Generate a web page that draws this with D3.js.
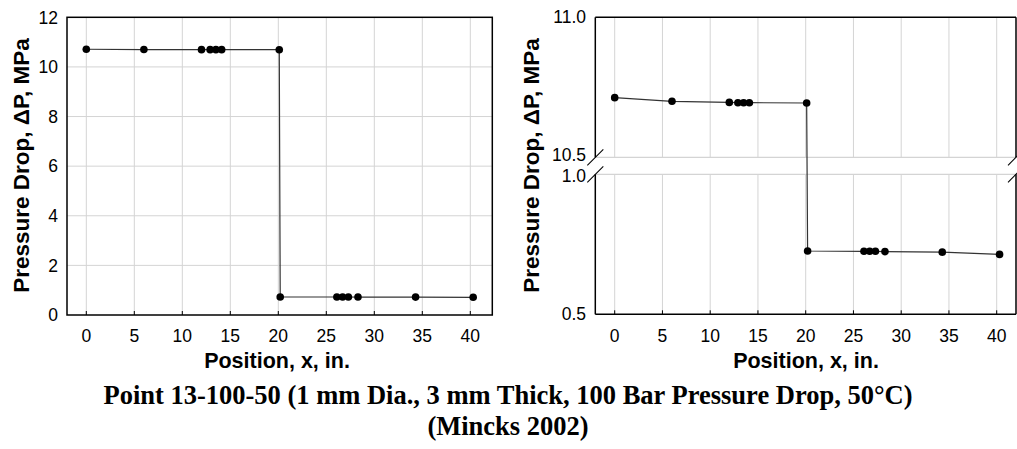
<!DOCTYPE html>
<html>
<head>
<meta charset="utf-8">
<script src="https://cdn.jsdelivr.net/npm/d3@7"></script>
<style>
  html, body { margin: 0; padding: 0; background: #fff; }
  svg { display: block; }
</style>
</head>
<body>
<svg id="chart" width="1017" height="449"></svg>
<script>
// Measured pressure drop along the specimen
const position = [0, 6, 12, 12.9, 13.5, 14.1, 20.1, 20.2, 26.1, 26.7, 27.3, 28.3, 34.3, 40.3];
const pressureDrop = [10.713, 10.70, 10.696, 10.695, 10.695, 10.695, 10.694,
                      0.726, 0.725, 0.725, 0.725, 0.724, 0.722, 0.714];

const xTicks = [0, 5, 10, 15, 20, 25, 30, 35, 40];
const yTicksFull = [0, 2, 4, 6, 8, 10, 12];
const yTicksUpper = [10.5, 11.0];
const yTicksLower = [0.5, 1.0];

const titleLines = [
  "Point 13-100-50 (1 mm Dia., 3 mm Thick, 100 Bar Pressure Drop, 50\u00B0C)",
  "(Mincks 2002)"
];
const xLabel = "Position, x, in.";
const yLabel = "Pressure Drop, \u0394P, MPa";

const svg = d3.select("#chart");
const sans = "'Liberation Sans', Arial, sans-serif";
const serif = "'Liberation Serif', 'Times New Roman', serif";
const gridColor = "#d4d4d4";
const lineColor = "#333";
const tickFont = 17.5;
const labelFont = 22.5;

const pts = position.map((x, i) => ({ x, y: pressureDrop[i] }));

// ---------- Left panel: full scale ----------
{
  const left = 67, right = 492.3, top = 17.3, bottom = 315;
  const x = d3.scaleLinear().domain([0, 40]).range([86.3, 470.3]);
  const y = d3.scaleLinear().domain([0, 12]).range([bottom, top]);
  const g = svg.append("g");

  // grid
  g.selectAll("line.vg").data(xTicks).join("line")
    .attr("x1", d => x(d)).attr("x2", d => x(d))
    .attr("y1", top).attr("y2", bottom)
    .attr("stroke", gridColor).attr("stroke-width", 1);
  g.selectAll("line.hg").data(yTicksFull.filter(d => d > 0 && d < 12)).join("line")
    .attr("x1", left).attr("x2", right)
    .attr("y1", d => y(d)).attr("y2", d => y(d))
    .attr("stroke", gridColor).attr("stroke-width", 1);

  // frame
  g.append("rect").attr("x", left).attr("y", top)
    .attr("width", right - left).attr("height", bottom - top)
    .attr("fill", "none").attr("stroke", "#000").attr("stroke-width", 1.5);

  // inside tick marks on x axis
  g.selectAll("line.xt").data(xTicks).join("line")
    .attr("x1", d => x(d)).attr("x2", d => x(d))
    .attr("y1", bottom).attr("y2", bottom - 4)
    .attr("stroke", "#000").attr("stroke-width", 1);

  // tick labels
  g.selectAll("text.xl").data(xTicks).join("text")
    .attr("x", d => x(d)).attr("y", 341.5)
    .attr("text-anchor", "middle")
    .attr("font-family", sans).attr("font-size", tickFont)
    .text(d => d);
  g.selectAll("text.yl").data(yTicksFull).join("text")
    .attr("x", 58).attr("y", d => y(d) + 6.3)
    .attr("text-anchor", "end")
    .attr("font-family", sans).attr("font-size", tickFont)
    .text(d => d);

  // data
  g.append("path").datum(pts)
    .attr("d", d3.line().x(d => x(d.x)).y(d => y(d.y)))
    .attr("fill", "none").attr("stroke", lineColor).attr("stroke-width", 1.2);
  g.selectAll("circle").data(pts).join("circle")
    .attr("cx", d => x(d.x)).attr("cy", d => y(d.y)).attr("r", 3.8)
    .attr("fill", "#000");

  // axis titles
  g.append("text").attr("x", 277).attr("y", 368)
    .attr("text-anchor", "middle").attr("font-family", sans)
    .attr("font-size", labelFont - 1).attr("font-weight", "bold").text(xLabel);
  g.append("text")
    .attr("transform", `translate(29,165.5) rotate(-90)`)
    .attr("text-anchor", "middle").attr("font-family", sans)
    .attr("font-size", labelFont).attr("font-weight", "bold").text(yLabel);
}

// ---------- Right panel: broken axis ----------
{
  const left = 595.3, right = 1016, top = 17.3, bottom = 314.3;
  const breakTop = 157.3, breakBottom = 174.3;
  const x = d3.scaleLinear().domain([0, 40]).range([614.7, 996.7]);
  // piecewise scale: lower segment 0.5–1.0, upper segment 10.5–11.0
  const y = d3.scaleLinear().domain([0.5, 1.0, 10.5, 11.0])
    .range([bottom, breakBottom, breakTop, top]);
  const g = svg.append("g");

  // vertical grid in both segments
  [[top, breakTop], [breakBottom, bottom]].forEach(([a, b]) => {
    g.append("g").selectAll("line").data(xTicks).join("line")
      .attr("x1", d => x(d)).attr("x2", d => x(d))
      .attr("y1", a).attr("y2", b)
      .attr("stroke", gridColor).attr("stroke-width", 1);
  });
  // gridlines bounding the break
  [10.5, 1.0].forEach(v => {
    g.append("line").attr("x1", left).attr("x2", right)
      .attr("y1", y(v)).attr("y2", y(v))
      .attr("stroke", gridColor).attr("stroke-width", 1.2);
  });

  // axes lines
  const axis = [
    [left, top, right, top],
    [left, top, left, breakTop],
    [left, breakBottom, left, bottom],
    [right, top, right, breakTop],
    [right, breakBottom, right, bottom],
    [left, bottom, right, bottom]
  ];
  g.selectAll("line.ax").data(axis).join("line")
    .attr("x1", d => d[0]).attr("y1", d => d[1])
    .attr("x2", d => d[2]).attr("y2", d => d[3])
    .attr("stroke", "#000").attr("stroke-width", 1.5);

  // break marks
  [left, right].forEach(cx => {
    [breakTop, breakBottom].forEach(cy => {
      g.append("line")
        .attr("x1", cx - 8).attr("y1", cy + 8)
        .attr("x2", cx + 8).attr("y2", cy - 8)
        .attr("stroke", "#000").attr("stroke-width", 1.1);
    });
  });

  // inside ticks on x axis
  g.selectAll("line.xt").data(xTicks).join("line")
    .attr("x1", d => x(d)).attr("x2", d => x(d))
    .attr("y1", bottom).attr("y2", bottom - 4)
    .attr("stroke", "#000").attr("stroke-width", 1);

  // tick labels
  g.selectAll("text.xl").data(xTicks).join("text")
    .attr("x", d => x(d)).attr("y", 341.5)
    .attr("text-anchor", "middle")
    .attr("font-family", sans).attr("font-size", tickFont)
    .text(d => d);
  // labels next to the break are nudged apart so they don't collide
  const yNudge = v => v === 10.5 ? -2 : (v === 1.0 ? 2 : 0);
  g.selectAll("text.yl").data(yTicksUpper.concat(yTicksLower)).join("text")
    .attr("x", 586).attr("y", d => y(d) + 6 + yNudge(d))
    .attr("text-anchor", "end")
    .attr("font-family", sans).attr("font-size", tickFont)
    .text(d => d.toFixed(1));

  // data
  g.append("path").datum(pts)
    .attr("d", d3.line().x(d => x(d.x)).y(d => y(d.y)))
    .attr("fill", "none").attr("stroke", lineColor).attr("stroke-width", 1.2);
  g.selectAll("circle").data(pts).join("circle")
    .attr("cx", d => x(d.x)).attr("cy", d => y(d.y)).attr("r", 3.8)
    .attr("fill", "#000");

  // axis titles
  g.append("text").attr("x", 806).attr("y", 368)
    .attr("text-anchor", "middle").attr("font-family", sans)
    .attr("font-size", labelFont - 1).attr("font-weight", "bold").text(xLabel);
  g.append("text")
    .attr("transform", `translate(539,165.5) rotate(-90)`)
    .attr("text-anchor", "middle").attr("font-family", sans)
    .attr("font-size", labelFont).attr("font-weight", "bold").text(yLabel);
}

// ---------- Title ----------
svg.selectAll("text.title").data(titleLines).join("text")
  .attr("x", 508).attr("y", (d, i) => 404 + i * 31)
  .attr("text-anchor", "middle")
  .attr("font-family", serif).attr("font-size", 26.5).attr("font-weight", "bold")
  .text(d => d);
</script>
</body>
</html>
